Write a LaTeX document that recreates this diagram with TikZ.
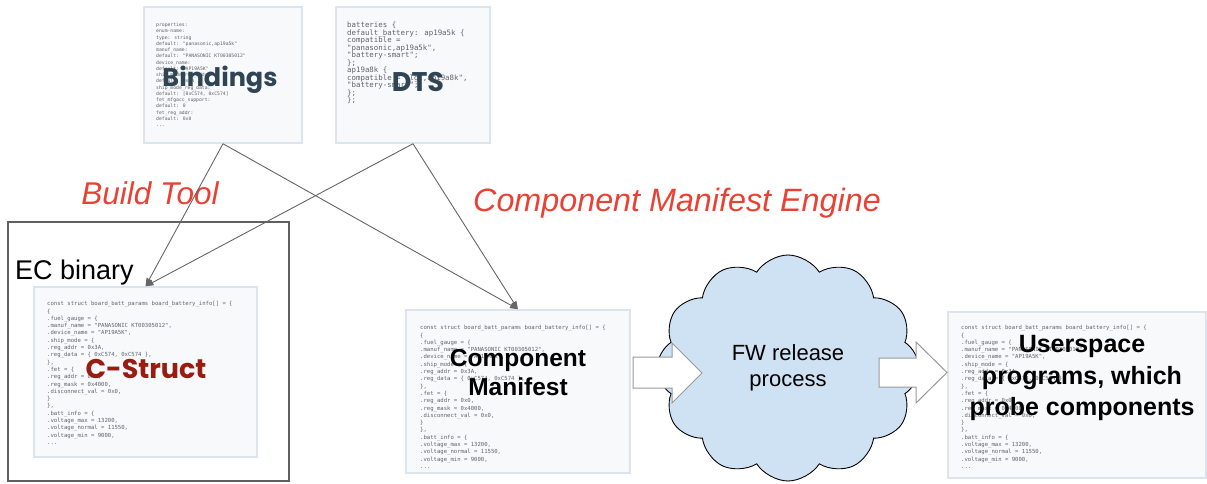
\documentclass[tikz,border=0pt]{standalone}
\usepackage{fontspec}
\setmainfont{Liberation Sans}
\newfontfamily\codefont{DejaVu Sans Mono}
\newfontfamily\titlefont{Poppins}
\usetikzlibrary{shapes.symbols,arrows.meta}

\definecolor{boxfill}{HTML}{F8F9FB}
\definecolor{boxline}{HTML}{DCE4EE}
\definecolor{codegray}{HTML}{5F6368}
\definecolor{slate}{HTML}{2F4454}
\definecolor{darkred}{HTML}{991B12}
\definecolor{labelred}{HTML}{E94235}
\definecolor{cloudfill}{HTML}{CFE2F3}
\definecolor{framegray}{HTML}{606060}
\definecolor{conngray}{HTML}{666666}

\newcommand{\cstructcode}{%
const struct board\_batt\_params board\_battery\_info[] = \{\\
\{\\
.fuel\_gauge = \{\\
.manuf\_name = "PANASONIC KT00305012",\\
.device\_name = "AP19A5K",\\
.ship\_mode = \{\\
.reg\_addr = 0x3A,\\
.reg\_data = \{ 0xC574, 0xC574 \},\\
\},\\
.fet = \{\\
.reg\_addr = 0x0,\\
.reg\_mask = 0x4000,\\
.disconnect\_val = 0x0,\\
\}\\
\},\\
.batt\_info = \{\\
.voltage\_max = 13200,\\
.voltage\_normal = 11550,\\
.voltage\_min = 9000,\\
...}

\tikzset{
  codebox/.style={draw=boxline, line width=1.5pt, fill=boxfill, inner sep=0pt},
  smallcode/.style={anchor=north west, inner sep=0pt, align=left, text=codegray,
    font=\codefont\fontsize{5.6}{7.3}\selectfont},
  conn/.style={draw=conngray, line width=0.9pt, -{Triangle[length=8pt,width=6pt]}},
  bigarrow/.style={draw=gray!80, line width=1pt, fill=white, line join=miter},
  redlabel/.style={text=labelred, font=\itshape\fontsize{31.5}{36}\selectfont},
  boldlabel/.style={align=center, font=\bfseries\fontsize{25}{31.5}\selectfont},
}

\begin{document}
\begin{tikzpicture}[x=1pt,y=-1pt]
\useasboundingbox (0,0) rectangle (1207,484);

% EC binary frame
\node[draw=framegray, line width=1.5pt, minimum width=281pt, minimum height=259pt, inner sep=0pt] (ec) at (148.5,351.5) {};
\node[anchor=base west, inner sep=0pt, font=\fontsize{27}{32}\selectfont] (eclabel) at (15,279) {EC binary};

% source boxes
\node[codebox, minimum width=158pt, minimum height=136pt] (bind) at (223,75) {};
\node[codebox, minimum width=154pt, minimum height=136pt] (dts) at (413,75) {};

\node[smallcode, font=\codefont\fontsize{4.75}{6.25}\selectfont] (bindcode) at (156,22.7) {%
properties:\\
enum-name:\\
type: string\\
default: "panasonic,ap19a5k"\\
manuf\_name:\\
default: "PANASONIC KT00305012"\\
device\_name:\\
default: "AP19A5K"\\
ship\_mode\_reg\_addr:\\
default: 0x3A\\
ship\_mode\_reg\_data:\\
default: [0xC574, 0xC574]\\
fet\_mfgacc\_support:\\
default: 0\\
fet\_reg\_addr:\\
default: 0x0\\
...};

\node[smallcode, font=\codefont\fontsize{7.4}{7.5}\selectfont] (dtscode) at (347,21.8) {%
batteries \{\\
default\_battery: ap19a5k \{\\
compatible =\\
"panasonic,ap19a5k",\\
"battery-smart";\\
\};\\
ap19a8k \{\\
compatible = "lgc,ap19a8k",\\
"battery-smart";\\
\};\\
\};};

\node[text=slate, font=\titlefont\bfseries\fontsize{25.5}{30}\selectfont] (bindlabel) at (220,80) {Bindings};
\node[text=slate, font=\titlefont\bfseries\fontsize{27}{30}\selectfont] (dtslabel) at (418,82) {DTS};

% generated code boxes
\node[codebox, minimum width=223pt, minimum height=170pt] (cstruct) at (145.5,372) {};
\node[smallcode] (ccode) at (47,301.3) {\cstructcode};
\node[text=darkred, font=\titlefont\bfseries\fontsize{27}{30}\selectfont] (clabel) at (146,369) {C-Struct};

\node[codebox, minimum width=224pt, minimum height=163pt] (cm) at (518,391.5) {};
\node[smallcode] (cmcode) at (420,325.3) {\cstructcode};
\node[boldlabel, font=\bfseries\fontsize{24.5}{29}\selectfont] (cmlabel) at (518,372.5) {Component\\Manifest};

\node[codebox, minimum width=258pt, minimum height=166pt] (us) at (1077,395) {};
\node[smallcode] (uscode) at (961,325.3) {\cstructcode};
\node[boldlabel] (uslabel) at (1082,378) {Userspace\\programs, which\\probe components};

% release cloud and block arrows
\node[cloud, cloud puffs=12, cloud puff arc=115, aspect=1.15, draw=black, line width=0.9pt,
  fill=cloudfill, minimum width=262pt, minimum height=226pt, inner sep=0pt,
  align=center, font=\fontsize{22}{26}\selectfont] (fw) at (788,368) {FW release\\process};

\draw[bigarrow] (633,357) -- (672,357) -- (672,343) -- (702,373) -- (672,403) -- (672,388) -- (633,388) -- cycle;
\draw[bigarrow] (879,358) -- (916,358) -- (916,342) -- (947,372.5) -- (916,403) -- (916,387) -- (879,387) -- cycle;

% tool labels
\node[redlabel] (buildtool) at (150,193) {Build Tool};
\node[redlabel, font=\itshape\fontsize{32.3}{36}\selectfont] (cme) at (677,203) {Component Manifest Engine};

% connectors
\draw[conn] (bind.south) -- (cstruct.north);
\draw[conn] (bind.south) -- (cm.north);
\draw[conn] (dts.south) -- (cstruct.north);
\draw[conn] (dts.south) -- (cm.north);
\end{tikzpicture}
\end{document}
